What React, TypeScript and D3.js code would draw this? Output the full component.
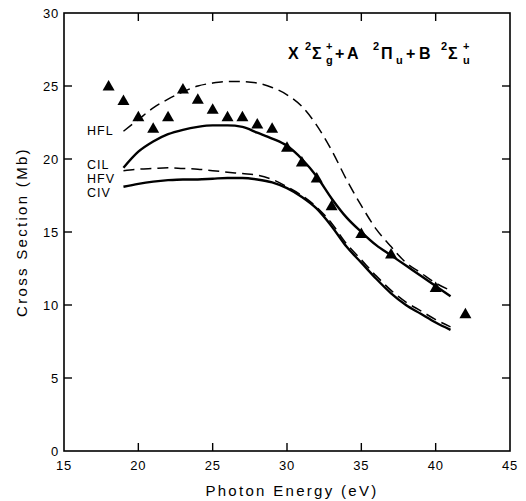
import React from "react";
import * as d3 from "d3";

const energyCurve = [19, 20, 21, 22, 23, 24, 25, 26, 27, 28, 29, 30, 31, 32, 33, 34, 35, 36, 37, 38, 39, 40, 41];
const hfl = [21.9, 22.7, 23.5, 24.1, 24.6, 25.0, 25.2, 25.3, 25.3, 25.2, 24.9, 24.4, 23.6, 22.3, 20.6, 18.6, 16.8, 15.2, 14.0, 12.9, 12.2, 11.5, 11.0];
const cil = [19.4, 20.5, 21.2, 21.7, 22.0, 22.2, 22.3, 22.3, 22.2, 21.8, 21.4, 20.9, 20.0, 18.8, 17.3, 16.0, 15.0, 14.1, 13.4, 12.7, 12.0, 11.3, 10.6];
const hfv = [19.2, 19.3, 19.35, 19.4, 19.35, 19.3, 19.2, 19.1, 19.0, 18.9, 18.6, 18.1, 17.5, 16.7, 15.6, 14.2, 13.1, 12.0, 11.0, 10.2, 9.6, 9.0, 8.5];
const civ = [18.1, 18.3, 18.45, 18.55, 18.6, 18.6, 18.65, 18.7, 18.7, 18.6, 18.4, 18.0, 17.4, 16.6, 15.4, 14.0, 12.9, 11.8, 10.8, 10.0, 9.4, 8.8, 8.3];

const expEnergy = [18, 19, 20, 21, 22, 23, 24, 25, 26, 27, 28, 29, 30, 31, 32, 33, 35, 37, 40, 42];
const expValue = [25.0, 24.0, 22.9, 22.1, 22.9, 24.8, 24.1, 23.4, 22.9, 22.9, 22.4, 22.1, 20.8, 19.8, 18.7, 16.8, 14.9, 13.5, 11.2, 9.4];

const xTicks = [15, 20, 25, 30, 35, 40, 45];
const yTicks = [0, 5, 10, 15, 20, 25, 30];

const curveLabels = ["HFL", "CIL", "HFV", "CIV"];

// title pieces: text, role (m = main, p = superscript, b = subscript)
const titlePieces: [string, string, number][] = [
  ["X", "m", 288],
  ["2", "p", 305],
  ["Σ", "m", 312],
  ["+", "p", 326],
  ["g", "b", 326],
  ["+", "m", 335],
  ["A", "m", 347],
  ["2", "p", 373],
  ["Π", "m", 381],
  ["u", "b", 396],
  ["+", "m", 406],
  ["B", "m", 419],
  ["2", "p", 441],
  ["Σ", "m", 448],
  ["+", "p", 463],
  ["u", "b", 463],
];

export default function App() {
  const W = 526, H = 501;
  const left = 64, right = 510, top = 13, bottom = 451;
  const x = d3.scaleLinear().domain([15, 45]).range([left, right]);
  const y = d3.scaleLinear().domain([0, 30]).range([bottom, top]);
  const line = d3
    .line<number>()
    .x((_, i) => x(energyCurve[i]))
    .y((d) => y(d))
    .curve(d3.curveMonotoneX);

  const font = "'Liberation Sans', Arial, sans-serif";
  const tri = (cx: number, cy: number) =>
    `M${cx},${cy - 6} L${cx + 6},${cy + 4.5} L${cx - 6},${cy + 4.5} Z`;

  const labelPos = [130, 164, 178, 192];

  return (
    <svg width={W} height={H} style={{ position: "absolute", left: 0, top: 0 }} fontFamily={font}>
      <rect x={0} y={0} width={W} height={H} fill="#fff" />
      <rect x={left} y={top} width={right - left} height={bottom - top} fill="none" stroke="#000" strokeWidth={1.6} />
      {xTicks.slice(1, -1).map((t) => (
        <g key={"xt" + t}>
          <line x1={x(t)} x2={x(t)} y1={bottom} y2={bottom - 8} stroke="#000" strokeWidth={1.4} />
          <line x1={x(t)} x2={x(t)} y1={top} y2={top + 8} stroke="#000" strokeWidth={1.4} />
        </g>
      ))}
      {yTicks.slice(1, -1).map((t) => (
        <g key={"yt" + t}>
          <line x1={left} x2={left + 8} y1={y(t)} y2={y(t)} stroke="#000" strokeWidth={1.4} />
          <line x1={right} x2={right - 8} y1={y(t)} y2={y(t)} stroke="#000" strokeWidth={1.4} />
        </g>
      ))}
      {xTicks.map((t) => (
        <text key={"xl" + t} x={x(t)} y={470} textAnchor="middle" fontSize={13} letterSpacing={0.8}>
          {t}
        </text>
      ))}
      {yTicks.map((t) => (
        <text key={"yl" + t} x={left - 5} y={y(t) + 5} textAnchor="end" fontSize={13} letterSpacing={0.8}>
          {t}
        </text>
      ))}
      <text x={292} y={496} textAnchor="middle" fontSize={15} letterSpacing={2.3}>
        Photon Energy (eV)
      </text>
      <text
        transform={`translate(27,${(top + bottom) / 2}) rotate(-90)`}
        textAnchor="middle"
        fontSize={15}
        letterSpacing={2.3}
      >
        Cross Section (Mb)
      </text>

      <path d={line(hfl) || ""} fill="none" stroke="#000" strokeWidth={1.5} strokeDasharray="11,6" />
      <path d={line(cil) || ""} fill="none" stroke="#000" strokeWidth={2.4} />
      <path d={line(hfv) || ""} fill="none" stroke="#000" strokeWidth={1.5} strokeDasharray="11,6" />
      <path d={line(civ) || ""} fill="none" stroke="#000" strokeWidth={2.4} />

      {expEnergy.map((e, i) => (
        <path key={"p" + i} d={tri(x(e), y(expValue[i]))} fill="#000" />
      ))}

      {curveLabels.map((l, i) => (
        <text key={l} x={87} y={labelPos[i] + 5} fontSize={12.5} letterSpacing={1}>
          {l}
        </text>
      ))}

      {titlePieces.map(([t, role, px], i) => (
        <text
          key={"t" + i}
          x={px}
          y={role === "m" ? 59 : role === "p" ? 50 : 64}
          fontSize={role === "m" ? 16 : 11}
          fontWeight="bold"
        >
          {t}
        </text>
      ))}
    </svg>
  );
}
